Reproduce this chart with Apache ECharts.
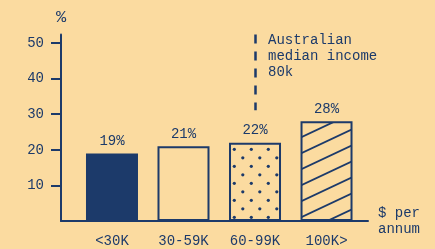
<!DOCTYPE html>
<html>
<head>
<meta charset="utf-8">
<script src="https://cdn.jsdelivr.net/npm/echarts@6/dist/echarts.min.js"></script>
<style>
  html, body { margin: 0; padding: 0; background: #fbdba0; }
  #chart { width: 435px; height: 249px; }
</style>
</head>
<body>
<div id="chart"></div>
<script>
// data
const categories = ['<30K', '30-59K', '60-99K', '100K>'];
const shares = [19, 21, 22, 28];
const yTicks = [10, 20, 30, 40, 50];
const medianLine = [[2, 52.4], [2, 31.1]]; // dashed marker above 60-99K bar
const noteLines = ['Australian', 'median income', '80k'];

const NAVY = '#1c3a6a';
const BG = '#fbdba0';
const FONT = 'Liberation Mono';

// dot pattern for bar 3
function dotPattern() {
  const c = document.createElement('canvas');
  c.width = 17; c.height = 17;
  const ctx = c.getContext('2d');
  ctx.fillStyle = NAVY;
  [[13.3, 13.3], [4.8, 4.8]].forEach(([x, y]) => {
    ctx.beginPath();
    ctx.arc(x, y, 1.6, 0, Math.PI * 2);
    ctx.fill();
  });
  return c;
}

// diagonal hatch for bar 4
function hatchPattern() {
  const c = document.createElement('canvas');
  c.width = 34; c.height = 16;
  const ctx = c.getContext('2d');
  ctx.strokeStyle = NAVY;
  ctx.lineWidth = 1.8;
  for (let k = -2; k <= 2; k++) {
    ctx.beginPath();
    ctx.moveTo(-1, 7 + 16 * k + 16 / 34);
    ctx.lineTo(35, -9 + 16 * k - 16 / 34);
    ctx.stroke();
  }
  return c;
}

const fills = [
  NAVY,
  BG,
  { image: dotPattern(), repeat: 'repeat' },
  { image: hatchPattern(), repeat: 'repeat' },
];

const chart = echarts.init(document.getElementById('chart'));

chart.setOption({
  animation: false,
  backgroundColor: BG,
  textStyle: { fontFamily: FONT, color: NAVY },
  grid: { left: 61, right: 67, top: 34.5, bottom: 28 },
  xAxis: {
    type: 'value',
    min: -0.713,
    max: 3.58,
    name: '$ per\nannum',
    nameLocation: 'end',
    nameGap: 10,
    nameTextStyle: { color: NAVY, fontSize: 14, fontFamily: FONT, align: 'left', lineHeight: 16, verticalAlign: 'middle' },
    splitLine: { show: false },
    axisLine: { show: true, onZero: false, lineStyle: { color: NAVY, width: 2 } },
    axisTick: { show: false },
    axisLabel: {
      customValues: [0, 1, 2, 3],
      formatter: v => categories[Math.round(v)],
      color: NAVY,
      fontSize: 14,
      fontFamily: FONT,
      margin: 13,
    },
  },
  yAxis: {
    type: 'value',
    min: 0,
    max: 52.4,
    interval: 10,
    name: '%',
    nameGap: 9,
    nameTextStyle: { color: NAVY, fontSize: 17, fontFamily: FONT },
    splitLine: { show: false },
    axisLine: { show: true, onZero: false, lineStyle: { color: NAVY, width: 2 } },
    axisTick: { show: true, customValues: yTicks, length: 10, lineStyle: { color: NAVY, width: 2 } },
    axisLabel: {
      customValues: yTicks,
      color: NAVY,
      fontSize: 14,
      fontFamily: FONT,
      margin: 17,
    },
  },
  graphic: [{
    type: 'text',
    left: 268,
    top: 32,
    style: {
      text: noteLines.join('\n'),
      fill: NAVY,
      font: '14px "' + FONT + '"',
      lineHeight: 16,
    },
  }],
  series: [{
    type: 'bar',
    barWidth: 52,
    data: shares.map((v, i) => ({
      value: [i, v],
      itemStyle: { color: fills[i], borderColor: NAVY, borderWidth: 2 },
    })),
    label: {
      show: true,
      position: 'top',
      distance: 5,
      color: NAVY,
      fontSize: 14,
      fontFamily: FONT,
      formatter: p => p.value[1] + '%',
    },
    markLine: {
      silent: true,
      symbol: ['none', 'none'],
      label: { show: false },
      lineStyle: { color: NAVY, width: 2.5, type: [9, 8] },
      data: [[{ coord: medianLine[0] }, { coord: medianLine[1] }]],
    },
  }],
});
</script>
</body>
</html>
